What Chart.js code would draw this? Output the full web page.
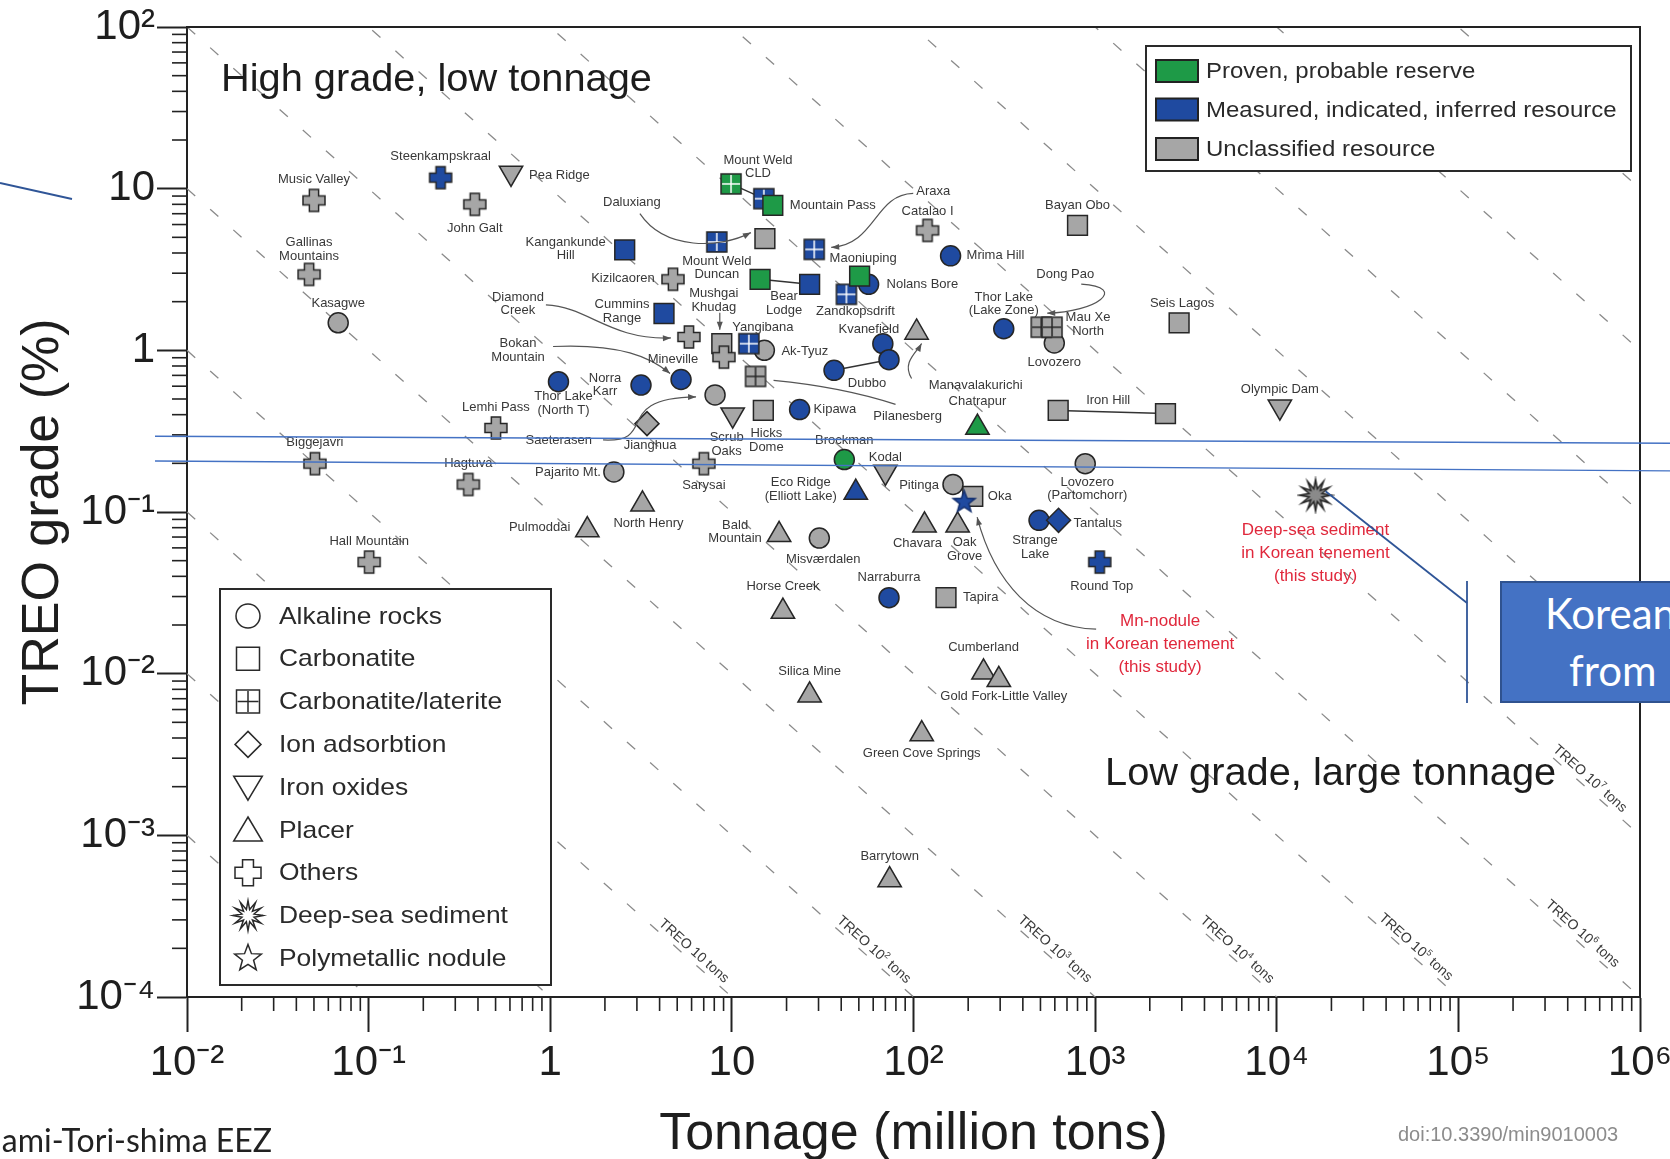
<!DOCTYPE html>
<html>
<head>
<meta charset="utf-8">
<script src="https://cdn.jsdelivr.net/npm/chart.js@4.4.1/dist/chart.umd.min.js"></script>
<style>
html,body{margin:0;padding:0;overflow:hidden;background:#fff;width:1670px;height:1159px;}
#wrap{position:absolute;left:0;top:0;width:1670px;height:1159px;}
.note{position:absolute;white-space:nowrap;}
#kbox{position:absolute;left:1500px;top:581px;width:260px;height:122px;box-sizing:border-box;background:#4472c4;border:2px solid #2f528f;}
#kbox span{position:absolute;color:#fff;font:42px Lato, "Open Sans", sans-serif;line-height:46px;white-space:nowrap;}
</style>
</head>
<body>
<div id="wrap"><canvas id="c"></canvas></div>
<div id="kbox"><span style="left:43px;top:7px;">Korean</span><span style="left:67px;top:64px;">from</span></div>
<div class="note" style="right:1398px;top:1120px;font:32px Lato, sans-serif;line-height:40px;color:#222;">Minami-Tori-shima EEZ</div>
<div class="note" style="left:1398px;top:1122px;font:20px 'Liberation Sans', Arial, sans-serif;line-height:24px;color:#8c8c8c;">doi:10.3390/min9010003</div>
<script>
// ---------------- DATA: [site, tonnage (Mt), TREO grade (%), resource class] ----------------
// class: P = proven/probable reserve, M = measured/indicated/inferred, U = unclassified
const alkalineRocks = [
  ['Kasagwe', 0.068, 1.48, 'U'],
  ['Thor Lake (North T)', 1.11, 0.64, 'M'],
  ['Norra Karr', 3.16, 0.61, 'M'],
  ['Bokan Mountain', 5.25, 0.66, 'M'],
  ['Saeterasen', 8.08, 0.53, 'U'],
  ['Pajarito Mt.', 2.24, 0.177, 'U'],
  ['Ak-Tyuz', 15.1, 1.0, 'U'],
  ['Kipawa', 23.6, 0.43, 'M'],
  ['Nolans Bore (2)', 56.6, 2.56, 'M'],
  ['Mrima Hill', 160, 3.84, 'M'],
  ['Thor Lake (Lake Zone)', 314, 1.36, 'M'],
  ['Lovozero', 596, 1.11, 'U'],
  ['Kvanefjeld', 67.8, 1.10, 'M'],
  ['Kvanefjeld (2)', 73.3, 0.875, 'M'],
  ['Dubbo', 36.5, 0.752, 'M'],
  ['Brockman', 41.6, 0.211, 'P'],
  ['Lovozero (Partomchorr)', 882, 0.199, 'U'],
  ['Pitinga', 165, 0.148, 'U'],
  ['Misvaerdalen', 30.3, 0.069, 'U'],
  ['Strange Lake', 491, 0.0888, 'M'],
  ['Narraburra', 73.3, 0.0295, 'M']
];
const carbonatite = [
  ['Kangankunde', 2.57, 4.18, 'M'],
  ['Cummins Range', 4.23, 1.69, 'M'],
  ['Mushgai Khudag', 8.8, 1.1, 'U'],
  ['Hicks Dome', 14.9, 0.425, 'U'],
  ['Mountain Pass', 16.8, 7.88, 'P'],
  ['Daluxiang', 15.2, 4.91, 'U'],
  ['Bear Lodge', 14.3, 2.75, 'P'],
  ['Bear Lodge (2)', 26.8, 2.56, 'M'],
  ['Nolans Bore', 50.5, 2.88, 'P'],
  ['Bayan Obo', 800, 5.93, 'U'],
  ['Seis Lagos', 2900, 1.48, 'U'],
  ['Iron Hill', 626, 0.425, 'U'],
  ['Iron Hill (2)', 2440, 0.406, 'U'],
  ['Oka', 212, 0.125, 'U'],
  ['Tapira', 151, 0.0295, 'U']
];
const carbonatiteLaterite = [
  ['Mount Weld CLD', 9.89, 10.7, 'P'],
  ['Mount Weld CLD (2)', 15.0, 8.67, 'M'],
  ['Mount Weld Duncan', 8.26, 4.68, 'M'],
  ['Maoniuping', 28.4, 4.21, 'M'],
  ['Zandkopsdrift', 42.7, 2.22, 'M'],
  ['Yangibana', 12.4, 1.10, 'M'],
  ['Pilanesberg', 13.5, 0.69, 'U'],
  ['Dong Pao', 505, 1.39, 'U'],
  ['Mau Xe North', 579, 1.39, 'U']
];
const ionAdsorption = [
  ['Jianghua', 3.41, 0.352, 'U'],
  ['Tantalus', 629, 0.0888, 'M']
];
const ironOxides = [
  ['Pea Ridge', 0.608, 12.5, 'U'],
  ['Scrub Oaks', 10.1, 0.40, 'U'],
  ['Kodal', 70, 0.177, 'U'],
  ['Olympic Dam', 10400, 0.448, 'U']
];
const placer = [
  ['Pulmoddai', 1.6, 0.0773, 'U'],
  ['North Henry', 3.22, 0.1115, 'U'],
  ['Chatrapur', 225, 0.333, 'P'],
  ['Manavalakurichi', 104, 1.29, 'U'],
  ['Eco Ridge', 48.1, 0.132, 'M'],
  ['Chavara', 115, 0.0827, 'U'],
  ['Oak Grove', 175, 0.0827, 'U'],
  ['Bald Mountain', 18.2, 0.0722, 'U'],
  ['Horse Creek', 19.1, 0.0242, 'U'],
  ['Cumberland', 243, 0.0102, 'U'],
  ['Gold Fork-Little Valley', 295, 0.00917, 'U'],
  ['Silica Mine', 26.8, 0.00735, 'U'],
  ['Green Cove Springs', 111, 0.00423, 'U'],
  ['Barrytown', 73.9, 0.000529, 'U']
];
const others = [
  ['Music Valley', 0.050, 8.46, 'U'],
  ['Steenkampskraal', 0.249, 11.7, 'M'],
  ['John Galt', 0.384, 8.0, 'U'],
  ['Gallinas Mountains', 0.047, 2.95, 'U'],
  ['Biggejavri', 0.0506, 0.199, 'U'],
  ['Hall Mountain', 0.1007, 0.049, 'U'],
  ['Lemhi Pass', 0.502, 0.331, 'U'],
  ['Hagtuva', 0.354, 0.148, 'U'],
  ['Sarysai', 7.01, 0.199, 'U'],
  ['Kizilcaoren', 4.74, 2.75, 'U'],
  ['Diamond Creek', 5.80, 1.21, 'U'],
  ['Mineville', 9.04, 0.907, 'U'],
  ['Catalao I', 119.5, 5.52, 'U'],
  ['Round Top', 1060, 0.049, 'M']
];
const deepSeaSediment = [['Deep-sea sediment (Korean tenement)', 16350, 0.127, 'U']];
const polymetallicNodule = [['Mn-nodule (Korean tenement)', 190, 0.115, 'M']];

// pairs of sites joined by a line
const connections = [
  ['Mount Weld CLD', 'Mount Weld CLD (2)'],
  ['Bear Lodge', 'Bear Lodge (2)'],
  ['Kvanefjeld (2)', 'Dubbo'],
  ['Iron Hill', 'Iron Hill (2)']
];
// iso-TREO lines: tonnage x grade = 10^k  (TREO tons = 10^(k+4))
const isoExponents = [-5,-4,-3,-2,-1,0,1,2,3,4,5,6,7];
const isoLabelExponents = [-3,-2,-1,0,1,2,3];

const xTickLabels = ['10⁻²','10⁻¹','1','10','10²','10³','10⁴','10⁵','10⁶'];
const yTickLabels = ['10⁻⁴','10⁻³','10⁻²','10⁻¹','1','10','10²'];
const resourceClasses = ['Proven, probable reserve','Measured, indicated, inferred resource','Unclassified resource'];
const depositTypes = ['Alkaline rocks','Carbonatite','Carbonatite/laterite','Ion adsorbtion','Iron oxides','Placer','Others','Deep-sea sediment','Polymetallic nodule'];

// ---------------- LAYOUT / STYLE ----------------
const FILL = {P:'#1e9a47', M:'#1f4aa0', U:'#a6a6a6'};
const EDGE = '#262626';
const LABEL_FONT = '13px "Liberation Sans", Arial, sans-serif';
// [text, anchor site, dx, dy, align]
const siteLabels = [
  ['Music Valley','Music Valley',0,-21],
  ['Steenkampskraal','Steenkampskraal',0,-21],
  ['Pea Ridge','Pea Ridge',18,2,'left'],
  ['John Galt','John Galt',0,24],
  ['Gallinas\nMountains','Gallinas Mountains',0,-25],
  ['Kasagwe','Kasagwe',0,-19],
  ['Biggejavri','Biggejavri',0,-21],
  ['Lemhi Pass','Lemhi Pass',0,-21],
  ['Hagtuva','Hagtuva',0,-21],
  ['Hall Mountain','Hall Mountain',0,-21],
  ['Pulmoddai','Pulmoddai',-17,-3,'right'],
  ['North Henry','North Henry',6,19],
  ['Pajarito Mt.','Pajarito Mt.',-13,1,'right'],
  ['Jianghua','Jianghua',3,22],
  ['Sarysai','Sarysai',0,22],
  ['Saeterasen','Saeterasen',-123,46,'right'],
  ['Scrub\nOaks','Scrub Oaks',-6,30],
  ['Hicks\nDome','Hicks Dome',3,30],
  ['Thor Lake\n(North T)','Thor Lake (North T)',5,22],
  ['Norra\nKarr','Norra Karr',-36,0],
  ['Bokan\nMountain','Bokan Mountain',-163,-29],
  ['Diamond\nCreek','Diamond Creek',-171,-33],
  ['Cummins\nRange','Cummins Range',-42,-2],
  ['Kizilcaoren','Kizilcaoren',-50,-1],
  ['Kangankunde\nHill','Kangankunde',-59,-1],
  ['Mineville','Mineville',-51,2],
  ['Mushgai\nKhudag','Mushgai Khudag',-8,-43],
  ['Yangibana','Yangibana',14,-16],
  ['Ak-Tyuz','Ak-Tyuz',17,1,'left'],
  ['Daluxiang','Daluxiang',-133,-36],
  ['Mount Weld\nCLD','Mount Weld CLD',27,-17],
  ['Mountain Pass','Mountain Pass',17,0,'left'],
  ['Mount Weld\nDuncan','Mount Weld Duncan',0,26],
  ['Araxa','Maoniuping',119,-58],
  ['Maoniuping','Maoniuping',49,9],
  ['Catalao I','Catalao I',0,-19],
  ['Mrima Hill','Mrima Hill',16,0,'left'],
  ['Bayan Obo','Bayan Obo',0,-20],
  ['Nolans Bore','Nolans Bore (2)',18,0,'left'],
  ['Bear\nLodge','Bear Lodge',24,24],
  ['Zandkopsdrift','Zandkopsdrift',9,17],
  ['Kvanefield','Kvanefjeld',-14,-14],
  ['Dubbo','Dubbo',33,13],
  ['Manavalakurichi','Manavalakurichi',59,53],
  ['Kipawa','Kipawa',14,0,'left'],
  ['Pilanesberg','Pilanesberg',152,40],
  ['Chatrapur','Chatrapur',0,-26],
  ['Thor Lake\n(Lake Zone)','Thor Lake (Lake Zone)',0,-25],
  ['Dong Pao','Dong Pao',24,-53],
  ['Mau Xe\nNorth','Mau Xe North',36,-3],
  ['Lovozero','Lovozero',0,19],
  ['Seis Lagos','Seis Lagos',3,-19],
  ['Olympic Dam','Olympic Dam',0,-17],
  ['Iron Hill','Iron Hill',50,-10],
  ['Lovozero\n(Partomchorr)','Lovozero (Partomchorr)',2,25],
  ['Brockman','Brockman',0,-19],
  ['Kodal','Kodal',0,-14],
  ['Eco Ridge\n(Elliott Lake)','Eco Ridge',-55,-3],
  ['Pitinga','Pitinga',-34,1],
  ['Oka','Oka',15,0,'left'],
  ['Chavara','Chavara',-7,18],
  ['Oak\nGrove','Oak Grove',7,24],
  ['Bald\nMountain','Bald Mountain',-44,-3],
  ['Misværdalen','Misvaerdalen',4,21],
  ['Strange\nLake','Strange Lake',-4,27],
  ['Tantalus','Tantalus',15,3,'left'],
  ['Round Top','Round Top',2,24],
  ['Narraburra','Narraburra',0,-20],
  ['Tapira','Tapira',17,0,'left'],
  ['Horse Creek','Horse Creek',0,-25],
  ['Cumberland','Cumberland',0,-25],
  ['Gold Fork-Little Valley','Gold Fork-Little Valley',5,17],
  ['Silica Mine','Silica Mine',0,-24],
  ['Green Cove Springs','Green Cove Springs',0,19],
  ['Barrytown','Barrytown',0,-24]
];
const redLabels = [
  ['Mn-nodule\nin Korean tenement\n(this study)','Mn-nodule (Korean tenement)',196,142],
  ['Deep-sea sediment\nin Korean tenement\n(this study)','Deep-sea sediment (Korean tenement)',0,58]
];
// [anchor, start, ctrl1, ctrl2, end, arrowhead]
const leaderCurves = [
  ['Daluxiang',[-125,-25],[-100,12],[-45,10],[-14,-6],true],
  ['Maoniuping',[99,-56],[60,-55],[62,-5],[17,-2],true],
  ['Diamond Creek',[-143,-32],[-100,-30],[-80,3],[-18,1],true],
  ['Bokan Mountain',[-128,-33],[-60,-36],[-30,-22],[-11,-6],true],
  ['Saeterasen',[-112,45],[-55,48],[-105,3],[-19,2],true],
  ['Dong Pao',[40,-43],[88,-40],[55,-15],[6,-14],true],
  ['Manavalakurichi',[-5,46],[-15,30],[0,20],[5,11],true],
  ['Mn-nodule (Korean tenement)',[132,127],[70,125],[30,80],[13,15],true],
  ['Pilanesberg',[18,4],[60,8],[100,15],[140,28],false],
  ['Mushgai Khudag',[-2,-31],[-2,-25],[-2,-19],[-2,-14],true]
];
const isoLabelPull = [59,61,62,61,65,85,75];

// ---------------- helpers ----------------
function drawShape(ctx, type, x, y, s, fill, stroke, lw, inner) {
  ctx.save(); ctx.translate(x, y);
  ctx.lineWidth = lw; ctx.strokeStyle = stroke; ctx.lineJoin = 'miter';
  ctx.beginPath();
  if (type === 'circle') ctx.arc(0, 0, s, 0, Math.PI * 2);
  else if (type === 'square' || type === 'grid') ctx.rect(-s, -s, 2 * s, 2 * s);
  else if (type === 'diamond') { ctx.moveTo(0, -s); ctx.lineTo(s, 0); ctx.lineTo(0, s); ctx.lineTo(-s, 0); ctx.closePath(); }
  else if (type === 'up') { ctx.moveTo(0, -s); ctx.lineTo(s * 1.1, s * 0.85); ctx.lineTo(-s * 1.1, s * 0.85); ctx.closePath(); }
  else if (type === 'down') { ctx.moveTo(0, s); ctx.lineTo(s * 1.1, -s * 0.85); ctx.lineTo(-s * 1.1, -s * 0.85); ctx.closePath(); }
  else if (type === 'plus') {
    const a = s * 0.42;
    ctx.moveTo(-a, -s); ctx.lineTo(a, -s); ctx.lineTo(a, -a); ctx.lineTo(s, -a); ctx.lineTo(s, a); ctx.lineTo(a, a);
    ctx.lineTo(a, s); ctx.lineTo(-a, s); ctx.lineTo(-a, a); ctx.lineTo(-s, a); ctx.lineTo(-s, -a); ctx.lineTo(-a, -a); ctx.closePath();
  } else if (type === 'burst') {
    const n = 12;
    for (let i = 0; i < n * 2; i++) {
      const r = i % 2 === 0 ? s : s * 0.42;
      const ang = -Math.PI / 2 + i * Math.PI / n;
      const px = Math.cos(ang) * r, py = Math.sin(ang) * r;
      if (i === 0) ctx.moveTo(px, py); else ctx.lineTo(px, py);
    }
    ctx.closePath();
  } else if (type === 'star') {
    for (let i = 0; i < 10; i++) {
      const r = i % 2 === 0 ? s : s * 0.42;
      const ang = -Math.PI / 2 + i * Math.PI / 5;
      const px = Math.cos(ang) * r, py = Math.sin(ang) * r;
      if (i === 0) ctx.moveTo(px, py); else ctx.lineTo(px, py);
    }
    ctx.closePath();
  }
  if (fill) { ctx.fillStyle = fill; ctx.fill(); }
  ctx.stroke();
  if (type === 'grid') {
    ctx.strokeStyle = inner; ctx.lineWidth = Math.max(1.4, lw);
    ctx.beginPath(); ctx.moveTo(0, -s + 1); ctx.lineTo(0, s - 1); ctx.moveTo(-s + 1, 0); ctx.lineTo(s - 1, 0); ctx.stroke();
  }
  ctx.restore();
}
function shapeCanvas(type, s, cls) {
  const c = document.createElement('canvas');
  const n = Math.ceil(2 * s + 6);
  c.width = n; c.height = n;
  const ctx = c.getContext('2d');
  const inner = cls === 'U' ? '#262626' : '#ffffff';
  const edge = type === 'star' ? '#14306e' : EDGE;
  const fill = type === 'burst' ? '#8a8a8a' : FILL[cls];
  drawShape(ctx, type, n / 2, n / 2, s, fill, edge, 1.5, inner);
  return c;
}
const customSizes = {grid: 10, plus: 11, burst: 16, star: 11.5};
const customCanvases = {};
for (const t in customSizes) {
  customCanvases[t] = {};
  for (const k of ['P', 'M', 'U']) customCanvases[t][k] = shapeCanvas(t, customSizes[t], k);
}

function logTicks(lo, hi) {
  const t = [];
  for (let e = lo; e < hi; e++) for (let m = 1; m <= 9; m++) t.push({value: +(m * Math.pow(10, e)).toPrecision(6), major: m === 1});
  t.push({value: Math.pow(10, hi), major: true});
  return t;
}
function isDecade(v) { const e = Math.log10(v); return Math.abs(e - Math.round(e)) < 1e-9; }

// ---------------- datasets ----------------
const groups = [
  {rows: others, style: 'plus'},
  {rows: polymetallicNodule, style: 'star'},
  {rows: deepSeaSediment, style: 'burst'},
  {rows: carbonatite, style: 'rect', r: 14},
  {rows: carbonatiteLaterite, style: 'grid'},
  {rows: ionAdsorption, style: 'rectRot', r: 12},
  {rows: ironOxides, style: 'triangle', r: 13.5, rot: 180},
  {rows: placer, style: 'triangle', r: 13.5},
  {rows: alkalineRocks, style: 'circle', r: 10}
];
const siteIndex = {};
const datasets = [];
groups.forEach(g => {
  const data = g.rows.map(r => { const p = {x: r[1], y: r[2], cls: r[3], name: r[0]}; siteIndex[r[0]] = p; return p; });
  const custom = customCanvases[g.style];
  datasets.push({
    type: 'scatter', data, order: 0,
    pointStyle: custom ? (c => (c.raw ? custom[c.raw.cls] : custom.U)) : g.style,
    pointRadius: g.r || 10,
    pointRotation: g.rot || 0,
    backgroundColor: c => (c.raw ? FILL[c.raw.cls] : FILL.U),
    borderColor: EDGE,
    borderWidth: 1.5
  });
});
connections.forEach(([a, b]) => {
  datasets.push({type: 'line', data: [{x: siteIndex[a].x, y: siteIndex[a].y}, {x: siteIndex[b].x, y: siteIndex[b].y}],
    borderColor: '#333', borderWidth: 1.5, pointRadius: 0, order: 5, fill: false});
});
isoExponents.forEach(k => {
  datasets.push({type: 'line', data: [{x: 1e-2, y: Math.pow(10, k) / 1e-2}, {x: 1e6, y: Math.pow(10, k) / 1e6}],
    borderColor: '#8a8a8a', borderWidth: 1.3, borderDash: [11, 20], pointRadius: 0, order: 10, fill: false});
});

// ---------------- drawing plugin ----------------
function multiText(ctx, text, x, y, align, font, lh, color) {
  const lines = text.split('\n');
  ctx.font = font; ctx.fillStyle = color; ctx.textAlign = align || 'center'; ctx.textBaseline = 'middle';
  const y0 = y - (lines.length - 1) * lh / 2;
  lines.forEach((l, i) => ctx.fillText(l, x, y0 + i * lh));
}
function wideText(ctx, text, x, y, sx) {
  ctx.save(); ctx.translate(x, y); ctx.scale(sx, 1); ctx.fillText(text, 0, 0); ctx.restore();
}
const overlay = {
  id: 'overlay',
  afterDatasetsDraw(chart) {
    const ctx = chart.ctx, xs = chart.scales.x, ys = chart.scales.y, a = chart.chartArea;
    const pix = p => ({x: xs.getPixelForValue(p.x), y: ys.getPixelForValue(p.y)});
    ctx.save();
    // leader curves
    ctx.strokeStyle = '#555'; ctx.fillStyle = '#555'; ctx.lineWidth = 1.2;
    leaderCurves.forEach(([name, s, c1, c2, e, head]) => {
      const p = pix(siteIndex[name]);
      ctx.beginPath(); ctx.moveTo(p.x + s[0], p.y + s[1]);
      ctx.bezierCurveTo(p.x + c1[0], p.y + c1[1], p.x + c2[0], p.y + c2[1], p.x + e[0], p.y + e[1]);
      ctx.stroke();
      if (head) {
        const ang = Math.atan2(e[1] - c2[1], e[0] - c2[0]);
        const ex = p.x + e[0], ey = p.y + e[1];
        ctx.beginPath(); ctx.moveTo(ex, ey);
        ctx.lineTo(ex - 8 * Math.cos(ang) + 3 * Math.sin(ang), ey - 8 * Math.sin(ang) - 3 * Math.cos(ang));
        ctx.lineTo(ex - 8 * Math.cos(ang) - 3 * Math.sin(ang), ey - 8 * Math.sin(ang) + 3 * Math.cos(ang));
        ctx.closePath(); ctx.fill();
      }
    });
    // site labels
    siteLabels.forEach(([t, name, dx, dy, al]) => {
      const p = pix(siteIndex[name]);
      multiText(ctx, t, p.x + dx, p.y + dy, al || 'center', LABEL_FONT, 13.5, '#383838');
    });
    redLabels.forEach(([t, name, dx, dy]) => {
      const p = pix(siteIndex[name]);
      multiText(ctx, t, p.x + dx, p.y + dy, 'center', '17px "Liberation Sans", Arial, sans-serif', 23, '#e0283c');
    });
    // iso line labels
    isoLabelExponents.forEach((k, i) => {
      const xe = Math.min(1e6, Math.pow(10, k + 4)), ye = Math.pow(10, k) / xe;
      const p1 = pix({x: xe, y: ye}), p2 = pix({x: xe / 10, y: ye * 10});
      let ux = p2.x - p1.x, uy = p2.y - p1.y; const L = Math.hypot(ux, uy); ux /= L; uy /= L;
      const nx = -uy, ny = ux;
      const D = isoLabelPull[i], off = 10;
      const cx = p1.x + ux * D + nx * off, cy = p1.y + uy * D + ny * off;
      const ang = Math.atan2(-uy, -ux);
      const exp = k + 4;
      ctx.save(); ctx.translate(cx, cy); ctx.rotate(ang);
      const f1 = '14px "Liberation Sans", Arial, sans-serif', f2 = '9px "Liberation Sans", Arial, sans-serif';
      ctx.font = f1; const w1 = ctx.measureText('TREO 10').width, w3 = ctx.measureText(' tons').width;
      ctx.font = f2; const sup = exp === 1 ? '' : String(exp); const w2 = sup ? ctx.measureText(sup).width : 0;
      let x0 = -(w1 + w2 + w3) / 2;
      ctx.fillStyle = '#3a3a3a'; ctx.textAlign = 'left'; ctx.textBaseline = 'alphabetic';
      ctx.font = f1; ctx.fillText('TREO 10', x0, 5);
      if (sup) { ctx.font = f2; ctx.fillText(sup, x0 + w1, -1); }
      ctx.font = f1; ctx.fillText(' tons', x0 + w1 + w2, 5);
      ctx.restore();
    });
    // region captions
    ctx.fillStyle = '#1c1c1c'; ctx.textAlign = 'left'; ctx.textBaseline = 'alphabetic';
    ctx.font = '38px "Liberation Sans", Arial, sans-serif';
    wideText(ctx, 'High grade, low tonnage', a.left + 34, a.top + 64, 1.046);
    wideText(ctx, 'Low grade, large tonnage', a.left + 918, a.top + 758, 1.047);
    // resource class legend
    ctx.fillStyle = '#fff'; ctx.fillRect(1146, 46, 485, 125);
    ctx.strokeStyle = '#2a2a2a'; ctx.lineWidth = 2; ctx.strokeRect(1146, 46, 485, 125);
    const swatch = [FILL.P, FILL.M, FILL.U];
    [71, 109.5, 149].forEach((cy, i) => {
      ctx.fillStyle = swatch[i]; ctx.fillRect(1156, cy - 11, 42, 22);
      ctx.strokeStyle = '#222'; ctx.lineWidth = 2; ctx.strokeRect(1156, cy - 11, 42, 22);
      ctx.fillStyle = '#2a2a2a'; ctx.font = '22px "Liberation Sans", Arial, sans-serif'; ctx.textAlign = 'left'; ctx.textBaseline = 'middle';
      wideText(ctx, resourceClasses[i], 1206, cy + 1, 1.09);
    });
    // deposit type legend
    ctx.fillStyle = '#fff'; ctx.fillRect(220, 589, 331, 396);
    ctx.strokeStyle = '#2a2a2a'; ctx.lineWidth = 2; ctx.strokeRect(220, 589, 331, 396);
    const legShapes = [['circle', 12], ['square', 11.5], ['grid', 11.5], ['diamond', 13], ['down', 13], ['up', 13], ['plus', 13], ['burst', 15], ['star', 14]];
    depositTypes.forEach((t, i) => {
      const cy = 616 + i * 42.8;
      drawShape(ctx, legShapes[i][0], 248, cy, legShapes[i][1], null, '#2a2a2a', 1.5, '#2a2a2a');
      ctx.fillStyle = '#2a2a2a'; ctx.font = '24px "Liberation Sans", Arial, sans-serif'; ctx.textAlign = 'left'; ctx.textBaseline = 'middle';
      wideText(ctx, t, 279, cy + 1, 1.1);
    });
    // frame (top and right)
    ctx.strokeStyle = '#222'; ctx.lineWidth = 2;
    ctx.beginPath(); ctx.moveTo(a.left, a.top); ctx.lineTo(a.right, a.top); ctx.lineTo(a.right, a.bottom); ctx.stroke();
    // minor ticks
    ctx.lineWidth = 1.6;
    xs.ticks.forEach(t => { if (!t.major) { const px = xs.getPixelForValue(t.value); ctx.beginPath(); ctx.moveTo(px, a.bottom); ctx.lineTo(px, a.bottom + 14); ctx.stroke(); } });
    ys.ticks.forEach(t => { if (!t.major) { const py = ys.getPixelForValue(t.value); ctx.beginPath(); ctx.moveTo(a.left, py); ctx.lineTo(a.left - 15, py); ctx.stroke(); } });
    ctx.restore();
  },
  afterDraw(chart) {
    const ctx = chart.ctx;
    ctx.save();
    ctx.strokeStyle = '#4472c4'; ctx.lineWidth = 1.4;
    ctx.beginPath(); ctx.moveTo(155, 436.3); ctx.lineTo(1670, 443.3); ctx.stroke();
    ctx.beginPath(); ctx.moveTo(155, 461); ctx.lineTo(1670, 470.9); ctx.stroke();
    ctx.strokeStyle = '#2f5597'; ctx.lineWidth = 1.8;
    ctx.beginPath(); ctx.moveTo(0, 183); ctx.lineTo(72, 199); ctx.stroke();
    const ds = siteIndex['Deep-sea sediment (Korean tenement)'];
    const p = {x: chart.scales.x.getPixelForValue(ds.x), y: chart.scales.y.getPixelForValue(ds.y)};
    ctx.beginPath(); ctx.moveTo(p.x + 10, p.y - 4); ctx.lineTo(1467, 603); ctx.stroke();
    ctx.beginPath(); ctx.moveTo(1467, 581); ctx.lineTo(1467, 703); ctx.stroke();
    ctx.restore();
  }
};

// ---------------- chart ----------------
const TICK_FONT = {family: '"Liberation Sans", Arial, sans-serif', size: 42};
new Chart(document.getElementById('c'), {
  type: 'scatter',
  data: {datasets},
  options: {
    responsive: true, maintainAspectRatio: false, animation: false, events: [],
    layout: {padding: {top: 27, right: 30, left: 0, bottom: 0}},
    plugins: {legend: {display: false}, tooltip: {enabled: false}},
    scales: {
      x: {
        type: 'logarithmic', min: 1e-2, max: 1e6, position: 'bottom',
        afterBuildTicks: s => { s.ticks = logTicks(-2, 6); },
        afterFit: s => { s.height = 162; s.paddingLeft = 0; s.paddingRight = 0; },
        ticks: {autoSkip: false, maxRotation: 0, minRotation: 0, padding: 6, color: '#1e1e1e', font: TICK_FONT,
          callback: v => (isDecade(v) ? xTickLabels[Math.round(Math.log10(v)) + 2] : '')},
        grid: {drawOnChartArea: false, drawTicks: true, tickLength: 35, tickWidth: 2,
          tickColor: c => (c.tick && c.tick.major ? '#222' : 'rgba(0,0,0,0)')},
        border: {display: true, color: '#222', width: 2},
        title: {display: true, text: 'Tonnage (million tons)', color: '#1e1e1e', padding: {top: 0, bottom: 0},
          font: {family: '"Liberation Sans", Arial, sans-serif', size: 52, lineHeight: 0.95}}
      },
      y: {
        type: 'logarithmic', min: 1e-4, max: 1e2, position: 'left',
        afterBuildTicks: s => { s.ticks = logTicks(-4, 2); },
        afterFit: s => { s.width = 187; s.paddingTop = 0; s.paddingBottom = 0; },
        ticks: {autoSkip: false, padding: 2, color: '#1e1e1e', font: TICK_FONT,
          callback: v => (isDecade(v) ? yTickLabels[Math.round(Math.log10(v)) + 4] : '')},
        grid: {drawOnChartArea: false, drawTicks: true, tickLength: 30, tickWidth: 2,
          tickColor: c => (c.tick && c.tick.major ? '#222' : 'rgba(0,0,0,0)')},
        border: {display: true, color: '#222', width: 2},
        title: {display: true, text: 'TREO grade (%)', color: '#1e1e1e', padding: {top: 12, bottom: 0},
          font: {family: '"Liberation Sans", Arial, sans-serif', size: 52, lineHeight: 1.2}}
      }
    }
  },
  plugins: [overlay]
});
</script>
</body>
</html>
